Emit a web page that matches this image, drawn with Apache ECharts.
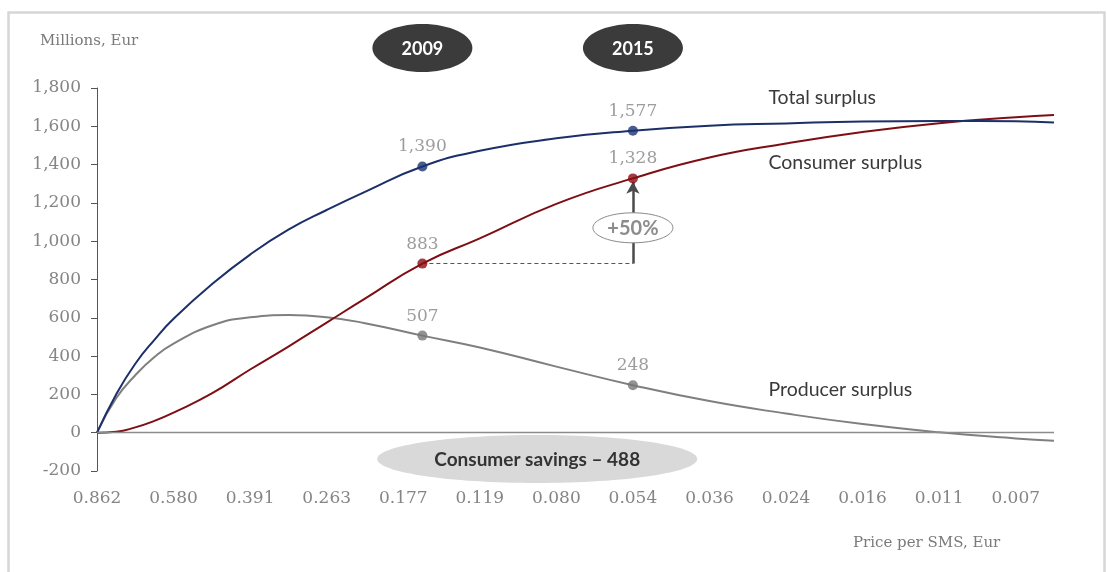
<!DOCTYPE html>
<html>
<head>
<meta charset="utf-8">
<script src="https://cdn.jsdelivr.net/npm/echarts@6/dist/echarts.min.js"></script>
<style>
  html, body { margin: 0; padding: 0; background: #fff; }
  #chart { width: 1107px; height: 572px; }
</style>
</head>
<body>
<div id="chart"></div>
<script>
// Price per SMS (Eur) printed under each whole step of the horizontal scale
const priceLabels = ['0.862', '0.580', '0.391', '0.263', '0.177', '0.119', '0.080',
                     '0.054', '0.036', '0.024', '0.016', '0.011', '0.007'];

// Sample positions along the price scale (in label steps)
const steps = [0, 0.25, 0.5, 0.75, 1, 1.5, 2, 2.5, 3, 3.5, 4.25, 5, 6, 7, 8, 9, 10, 11, 12, 12.5];

// Surplus curves, millions of Eur
const totalSurplus    = [0, 200, 360, 485, 595, 775, 930, 1060, 1163, 1258, 1390, 1472, 1537, 1577, 1603, 1615, 1625, 1628, 1626, 1620];
const consumerSurplus = [0,   5,  28,  62, 105, 205, 330,  450,  575,  700,  883, 1015, 1195, 1328, 1437, 1510, 1570, 1616, 1647, 1659];
const producerSurplus = [0, 180, 300, 395, 465, 560, 603,  614,  603,  572,  507,  445,  345,  248,  165,  100,   45,    2,  -30,  -42];

// Years highlighted on the curves and their positions on the price scale
const years = ['2009', '2015'];
const yearSteps = [4.25, 7];

const yTicks = { min: -200, max: 1800, step: 200 };

const SERIF = '"DejaVu Serif", serif';
const SANS = 'Lato, "Noto Sans", sans-serif';

const fmt = v => Math.round(v).toLocaleString('en-US');
const pairs = arr => steps.map((s, i) => [s, arr[i]]);
const yearPoints = arr => yearSteps.map(s => [s, arr[steps.indexOf(s)]]);

const curveColors = { total: '#1b2f68', consumer: '#7d0f14', producer: '#7f7f7f' };

function curve(name, arr, color, extra) {
  return Object.assign({
    name, type: 'line', data: pairs(arr),
    smooth: 0.5, showSymbol: false,
    lineStyle: { color, width: 2 }, itemStyle: { color },
    silent: true, z: 3
  }, extra || {});
}
function dots(name, arr, color) {
  return {
    name: name + ' marks', type: 'scatter', data: yearPoints(arr),
    symbolSize: 10, itemStyle: { color }, z: 6, silent: true,
    label: {
      show: true, position: 'top', distance: 6,
      formatter: p => fmt(p.value[1]),
      fontFamily: SERIF, fontSize: 17, color: '#858585'
    }
  };
}

const c2009 = consumerSurplus[steps.indexOf(yearSteps[0])];
const c2015 = consumerSurplus[steps.indexOf(yearSteps[1])];

const option = {
  animation: false,
  backgroundColor: '#ffffff',
  grid: { left: 97, right: 53, top: 88, bottom: 101, containLabel: false },
  xAxis: {
    type: 'value', min: 0, max: 12.5, interval: 1,
    axisLine: { show: false }, axisTick: { show: false }, splitLine: { show: false },
    axisLabel: {
      margin: 19, fontFamily: SERIF, fontSize: 17, color: '#858585',
      showMaxLabel: false,
      formatter: v => (Number.isInteger(v) && priceLabels[v] !== undefined) ? priceLabels[v] : ''
    }
  },
  yAxis: {
    type: 'value', min: yTicks.min, max: yTicks.max, interval: yTicks.step,
    axisLine: { show: true, lineStyle: { color: '#555', width: 1 } },
    axisTick: { show: true, length: 6, lineStyle: { color: '#555' } },
    splitLine: { show: false },
    axisLabel: { margin: 16, fontFamily: SERIF, fontSize: 17, color: '#858585', formatter: v => fmt(v) }
  },
  series: [
    curve('Producer surplus', producerSurplus, curveColors.producer, {
      markLine: {
        silent: true, symbol: ['none', 'none'], label: { show: false },
        lineStyle: { color: '#8c8c8c', width: 1.3, type: 'solid' },
        data: [{ yAxis: 0 }]
      }
    }),
    curve('Consumer surplus', consumerSurplus, curveColors.consumer, {
      markLine: {
        silent: true, label: { show: false }, symbol: ['none', 'none'],
        data: [
          [
            { coord: [yearSteps[0], c2009], lineStyle: { color: '#555', width: 1, type: [4, 3] } },
            { coord: [yearSteps[1], c2009] }
          ],
          [
            { coord: [yearSteps[1], c2009], symbol: 'none', lineStyle: { color: '#4a4a4a', width: 2.5, type: 'solid' } },
            { coord: [yearSteps[1], c2015 - 18], symbol: 'arrow', symbolSize: [10, 12] }
          ]
        ]
      }
    }),
    curve('Total surplus', totalSurplus, curveColors.total),
    dots('Producer surplus', producerSurplus, '#777777'),
    dots('Consumer surplus', consumerSurplus, '#8b0b10'),
    dots('Total surplus', totalSurplus, '#1a3372')
  ]
};

const chart = echarts.init(document.getElementById('chart'), null, { renderer: 'canvas' });
chart.setOption(option);

const px = (x, y) => chart.convertToPixel({ gridIndex: 0 }, [x, y]);

const graphics = [];
// light frame around the figure
graphics.push({ type: 'rect', silent: true, z: 0,
  shape: { x: 8.5, y: 12.5, width: 1096, height: 600 },
  style: { fill: 'none', stroke: '#d6d6d6', lineWidth: 2.5 } });

graphics.push({ type: 'text', silent: true, x: 40, y: 41,
  style: { text: 'Millions, Eur', font: '15px ' + SERIF, fill: '#7a7a7a', verticalAlign: 'middle' } });
graphics.push({ type: 'text', silent: true, x: 853, y: 543,
  style: { text: 'Price per SMS, Eur', font: '15px ' + SERIF, fill: '#7a7a7a', verticalAlign: 'middle' } });

// year badges above the chart
years.forEach((yr, i) => {
  const cx = px(yearSteps[i], 0)[0];
  graphics.push({ type: 'ellipse', silent: true, z: 10,
    shape: { cx, cy: 48, rx: 50, ry: 24 }, style: { fill: '#3b3b3b' } });
  graphics.push({ type: 'text', silent: true, z: 11, x: cx, y: 49,
    style: { text: yr, font: 'bold 18px ' + SANS, fill: '#ffffff', align: 'center', verticalAlign: 'middle' } });
});

// consumer savings badge below the zero line
const sv = px(5.75, -137);
graphics.push({ type: 'ellipse', silent: true, z: 10,
  shape: { cx: sv[0], cy: sv[1], rx: 160, ry: 24 }, style: { fill: '#d9d9d9' } });
graphics.push({ type: 'text', silent: true, z: 11, x: sv[0], y: sv[1] + 1,
  style: { text: 'Consumer savings \u2013 488', font: 'bold 19px ' + SANS, fill: '#333333', align: 'center', verticalAlign: 'middle' } });

// growth badge on the arrow
const gb = px(yearSteps[1], c2009 + 0.42 * (c2015 - c2009));
graphics.push({ type: 'ellipse', silent: true, z: 10,
  shape: { cx: gb[0], cy: gb[1], rx: 40, ry: 15 }, style: { fill: '#ffffff', stroke: '#8a8a8a', lineWidth: 1 } });
graphics.push({ type: 'text', silent: true, z: 11, x: gb[0], y: gb[1] + 1,
  style: { text: '+50%', font: 'bold 20px ' + SANS, fill: '#8c8c8c', align: 'center', verticalAlign: 'middle' } });

// curve names
const nameStep = 8.77;
[['Total surplus', 1748], ['Consumer surplus', 1408], ['Producer surplus', 223]].forEach(([t, v]) => {
  const p = px(nameStep, v);
  graphics.push({ type: 'text', silent: true, z: 11, x: p[0], y: p[1],
    style: { text: t, font: '19.5px ' + SANS, fill: '#3a3a3a', verticalAlign: 'middle' } });
});

chart.setOption({ graphic: graphics });
</script>
</body>
</html>
